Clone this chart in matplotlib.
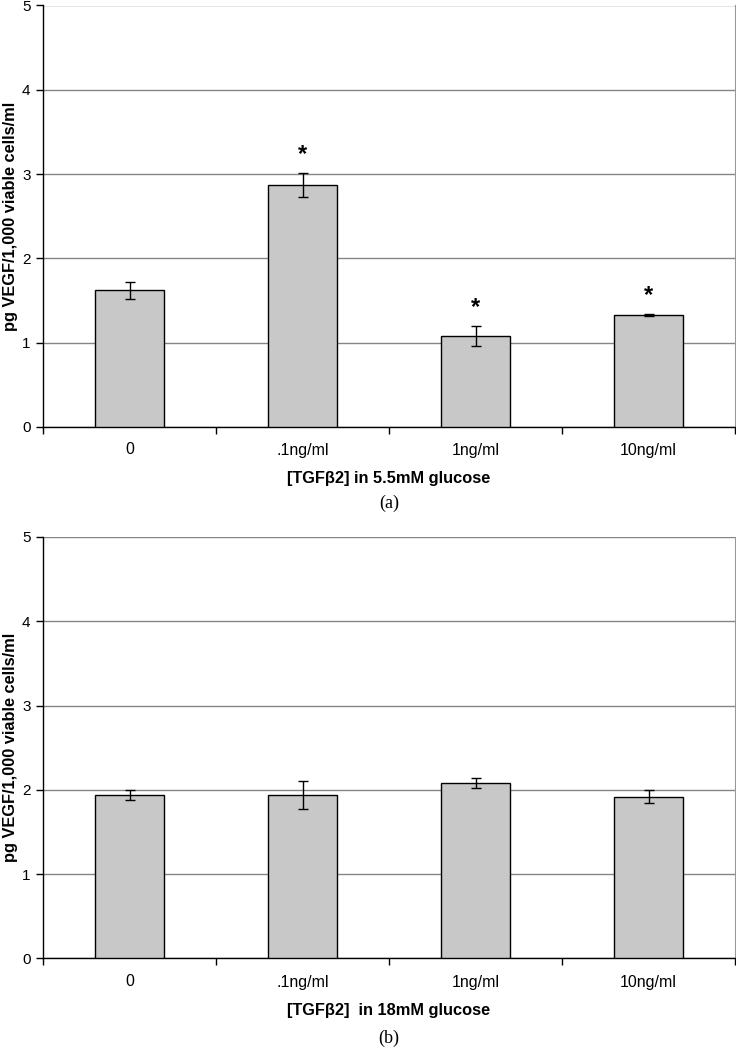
import matplotlib
matplotlib.use("Agg")
import matplotlib.pyplot as plt
import matplotlib.transforms as mtransforms
import numpy as np

categories = ["0", ".1ng/ml", "1ng/ml", "10ng/ml"]
values_a = [1.62, 2.87, 1.08, 1.33]
errors_a = [0.10, 0.14, 0.12, 0.012]
stars_a = ["", "*", "*", "*"]
values_b = [1.94, 1.94, 2.08, 1.92]
errors_b = [0.06, 0.165, 0.06, 0.075]
stars_b = ["", "", "", ""]
xlabel_a = "[TGF\u03b22] in 5.5mM glucose"
xlabel_b = "[TGF\u03b22]  in 18mM glucose"
ylabel = "pg VEGF/1,000 viable cells/ml"
yticks = [0, 1, 2, 3, 4, 5]

plt.rcParams['font.family'] = ['Liberation Sans', 'DejaVu Sans']

fig = plt.figure(figsize=(7.36, 10.49), dpi=100)
W, H = 736, 1049

def make_panel(rect, values, errors, stars, xlabel, tag, label_y, xlab_y, tag_y):
    ax = fig.add_axes(rect)
    x = np.arange(len(categories))
    ax.bar(x, values, width=0.4, color="#c8c8c8", edgecolor="black", linewidth=1.0, zorder=3)
    ax.errorbar(x, values, yerr=errors, fmt="none", ecolor="black", elinewidth=1.0,
                capsize=3.5, capthick=1.0, zorder=4)
    for xi, v, e, s in zip(x, values, errors, stars):
        if s:
            ax.text(xi, v + e + 0.08, s, ha="center", va="bottom", fontsize=17,
                    fontweight="bold", zorder=5)
    ax.set_xlim(-0.5, 3.5)
    ax.set_ylim(0, 5)
    ax.set_yticks(yticks)
    ax.set_yticklabels([str(t) for t in yticks], fontsize=11)
    ax.yaxis.grid(True, color="#858585", linewidth=1.0, zorder=0)
    ax.set_axisbelow(True)
    ax.set_xticks(np.arange(-0.5, 3.6, 1.0))
    ax.set_xticklabels([])
    ax.tick_params(axis="x", direction="out", length=5, width=1)
    ax.tick_params(axis="y", direction="out", length=5, width=1, pad=4)
    trans = mtransforms.blended_transform_factory(ax.transData, fig.transFigure)
    for xi, c in zip(x, categories):
        ax.text(xi, 1 - label_y / H, c, transform=trans, ha="center", va="center",
                fontsize=11.5)
    ax.spines["top"].set_visible(False)
    ax.spines["right"].set_color("#999999")
    ax.spines["left"].set_linewidth(1.0)
    ax.spines["bottom"].set_linewidth(1.0)
    cy = rect[1] + rect[3] / 2
    fig.text(11 / W, cy, ylabel, rotation=90, ha="center", va="center",
             fontsize=11.8, fontweight="bold")
    fig.text(389 / W, 1 - xlab_y / H, xlabel, ha="center", va="center", fontsize=11.8,
             fontweight="bold")
    fig.text(389 / W, 1 - tag_y / H, tag, ha="center", va="center", fontsize=13,
             family="Liberation Serif")
    return ax

left = 43 / W
width = (735 - 43) / W
make_panel([left, 1 - 427 / H, width, (427 - 5.5) / H], values_a, errors_a, stars_a,
           xlabel_a, "(a)", 450, 478, 503)
make_panel([left, 1 - 958.3 / H, width, (958.3 - 537) / H], values_b, errors_b, stars_b,
           xlabel_b, "(b)", 982, 1010, 1038)

fig.savefig("out.png", dpi=100)
